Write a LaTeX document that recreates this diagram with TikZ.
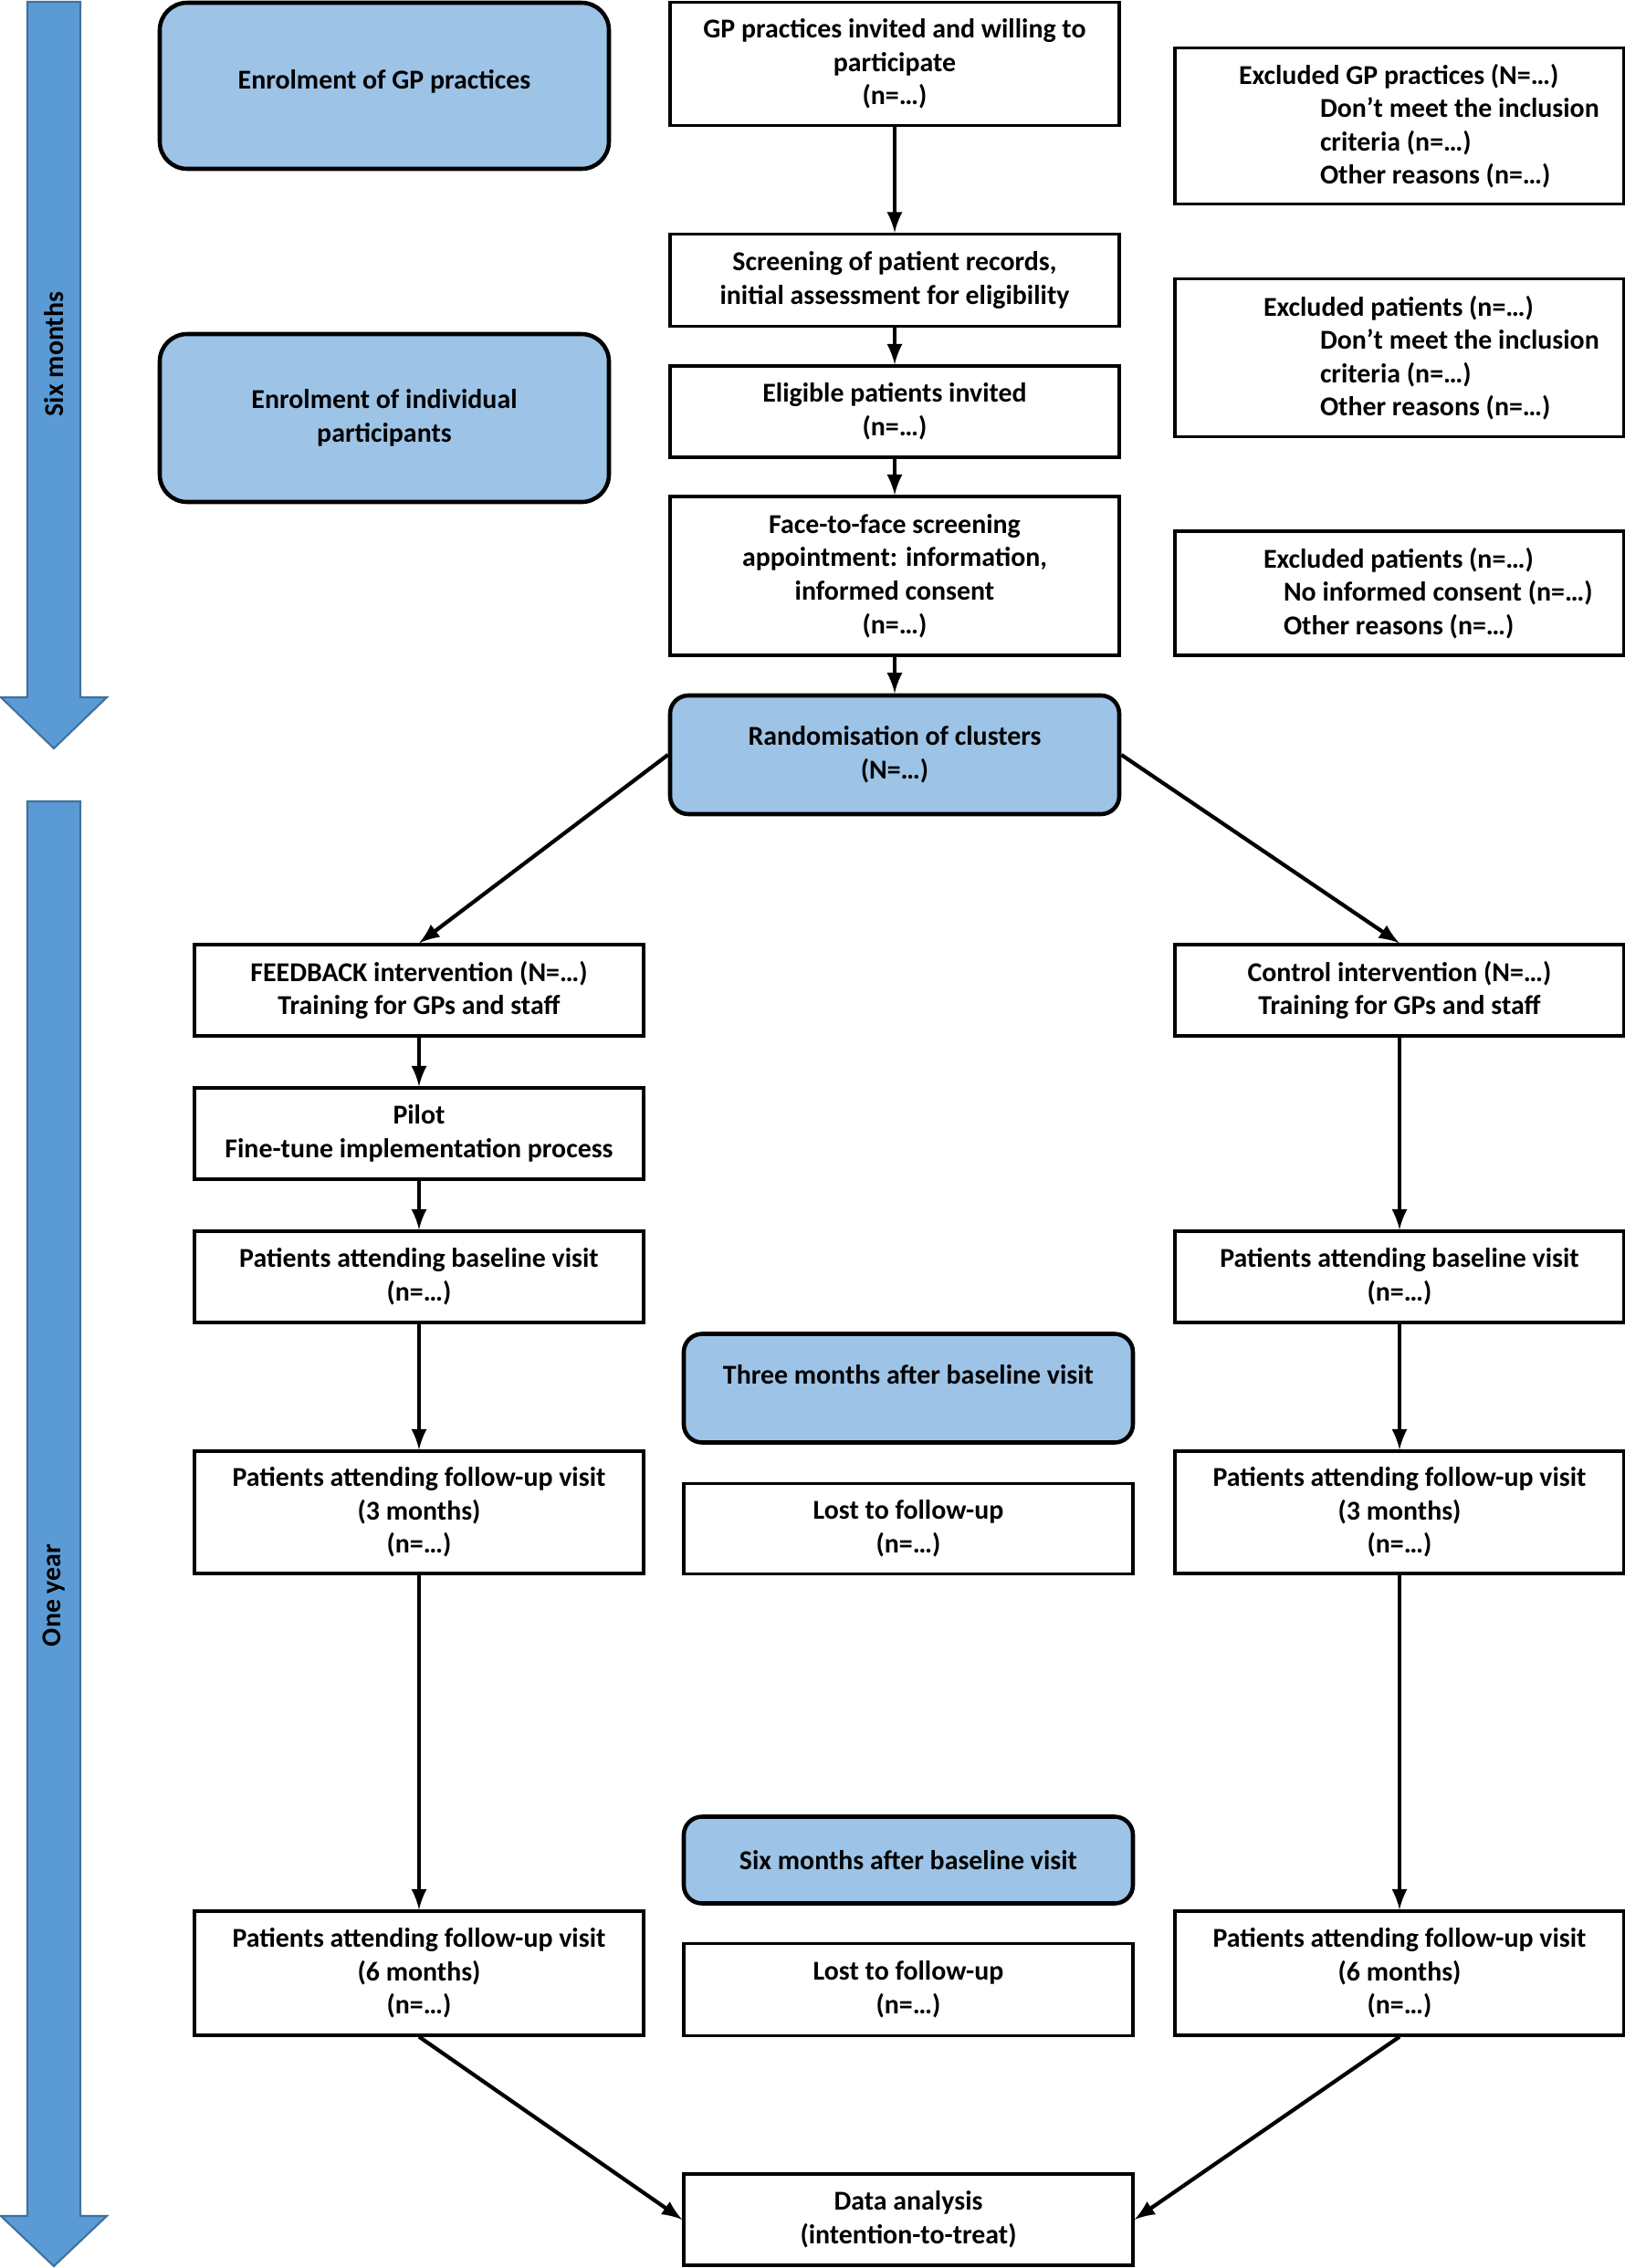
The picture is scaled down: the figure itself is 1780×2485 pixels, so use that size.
\documentclass[tikz,border=0pt]{standalone}
\usepackage{fontspec}
\setmainfont{Carlito}
\usepackage{tikz}
\usetikzlibrary{shapes,arrows}

\definecolor{phaseblue}{HTML}{9DC3E6}
\definecolor{timeblue}{HTML}{5B9BD5}
\definecolor{timeedge}{HTML}{41719C}

\tikzset{
  every node/.style={font=\fontsize{8.5}{10.4}\selectfont\bfseries},
  stepnode/.style={draw, line width=0.9pt, minimum width=49.2mm, inner sep=1mm, align=center},
  phase/.style={stepnode, fill=phaseblue, line width=1.3pt, rounded corners=2mm},
  exclnode/.style={stepnode, text width=47.2mm, inner xsep=1mm, align=flush left},
  timearrow/.style={fill=timeblue, draw=timeedge, line width=0.6pt},
  flow/.style={-latex, line width=1.2pt}
}

\begin{document}
\begin{tikzpicture}[x=0.1mm,y=-0.1mm]
        \useasboundingbox (0,0) rectangle (1780,2485);

        % Time arrows:
        \draw[timearrow] (30,2) -- (88,2) -- (88,764) -- (117,764) -- (59,820) -- (1,764) -- (30,764) -- cycle;
        \draw[timearrow] (30,878) -- (88,878) -- (88,2428) -- (117,2428) -- (59,2483) -- (1,2428) -- (30,2428) -- cycle;
        \node[rotate=90] (sixmonths) at (59,388) {Six months};
        \node[rotate=90] (oneyear) at (59,1748) {One year};

        % Enrolment
        \node[phase, rounded corners=3mm, minimum height=18.2mm, text depth=1.5mm] (enrolgp) at (421,94) {Enrolment of GP practices};
        \node[phase, rounded corners=3mm, minimum height=18.4mm] (enrolpat) at (421,458) {Enrolment of individual\\participants};

        \node[stepnode, minimum height=13.5mm] (invited) at (980,70) {GP practices invited and willing to\\participate\\(n=…)};
        \node[stepnode, minimum height=10.1mm] (screen) at (980,307) {Screening of patient records,\\initial assessment for eligibility};
        \node[stepnode, minimum height=10mm] (elig) at (980,451) {Eligible patients invited\\(n=…)};
        \node[stepnode, minimum height=17.4mm] (face) at (980,631) {Face-to-face screening\\appointment: information,\\informed consent\\(n=…)};
        \node[phase, minimum height=13mm] (random) at (980,827) {Randomisation of clusters\\(N=…)};

        % Exclusions
        \node[exclnode, minimum height=17.1mm] (exclgp) at (1533,138) {\hyphenpenalty=10000\hspace*{6mm}Excluded GP practices (N=…)\\\hspace*{14.9mm}Don’t meet the inclusion\\\hspace*{14.9mm}criteria (n=…)\\\hspace*{14.9mm}Other reasons (n=…)};
        \node[exclnode, minimum height=17.3mm] (exclrec) at (1533,392) {\hyphenpenalty=10000\hspace*{8.7mm}Excluded patients (n=…)\\\hspace*{14.9mm}Don’t meet the inclusion\\\hspace*{14.9mm}criteria (n=…)\\\hspace*{14.9mm}Other reasons (n=…)};
        \node[exclnode, minimum height=13.6mm] (exclface) at (1533,650) {\hyphenpenalty=10000\hspace*{8.7mm}Excluded patients (n=…)\\\hspace*{10.9mm}No informed consent (n=…)\\\hspace*{10.9mm}Other reasons (n=…)};

        % FEEDBACK arm
        \node[stepnode, minimum height=10mm] (feedback) at (459,1085) {FEEDBACK intervention (N=…)\\Training for GPs and staff};
        \node[stepnode, minimum height=10mm] (pilot) at (459,1242) {Pilot\\Fine-tune implementation process};
        \node[stepnode, minimum height=10mm] (baseA) at (459,1399) {Patients attending baseline visit\\(n=…)};
        \node[stepnode, minimum height=13.4mm] (fuA3) at (459,1657) {Patients attending follow-up visit\\(3 months)\\(n=…)};
        \node[stepnode, minimum height=13.6mm] (fuA6) at (459,2162) {Patients attending follow-up visit\\(6 months)\\(n=…)};

        % control arm
        \node[stepnode, minimum height=10mm] (control) at (1533,1085) {Control intervention (N=…)\\Training for GPs and staff};
        \node[stepnode, minimum height=10mm] (baseB) at (1533,1399) {Patients attending baseline visit\\(n=…)};
        \node[stepnode, minimum height=13.4mm] (fuB3) at (1533,1657) {Patients attending follow-up visit\\(3 months)\\(n=…)};
        \node[stepnode, minimum height=13.6mm] (fuB6) at (1533,2162) {Patients attending follow-up visit\\(6 months)\\(n=…)};

        % middle column
        \node[phase, minimum height=11.9mm, text depth=3mm] (threem) at (995,1521) {Three months after baseline visit};
        \node[stepnode, minimum height=9.9mm] (lost3) at (995,1675) {Lost to follow-up\\(n=…)};
        \node[phase, minimum height=9.5mm] (sixm) at (995,2038) {Six months after baseline visit};
        \node[stepnode, minimum height=10.1mm] (lost6) at (995,2180) {Lost to follow-up\\(n=…)};
        \node[stepnode, minimum height=10mm] (data) at (995,2432) {Data analysis\\(intention-to-treat)};

        %arrows
        \foreach \a/\b in {invited/screen, screen/elig, elig/face, face/random, feedback/pilot, pilot/baseA, baseA/fuA3, fuA3/fuA6, control/baseB, baseB/fuB3, fuB3/fuB6}
            \draw[flow] (\a.south) -- (\b.north);
        \draw[flow] (random.west) -- (feedback.north);
        \draw[flow] (random.east) -- (control.north);
        \draw[flow] (fuA6.south) -- (data.west);
        \draw[flow] (fuB6.south) -- (data.east);
\end{tikzpicture}
\end{document}
